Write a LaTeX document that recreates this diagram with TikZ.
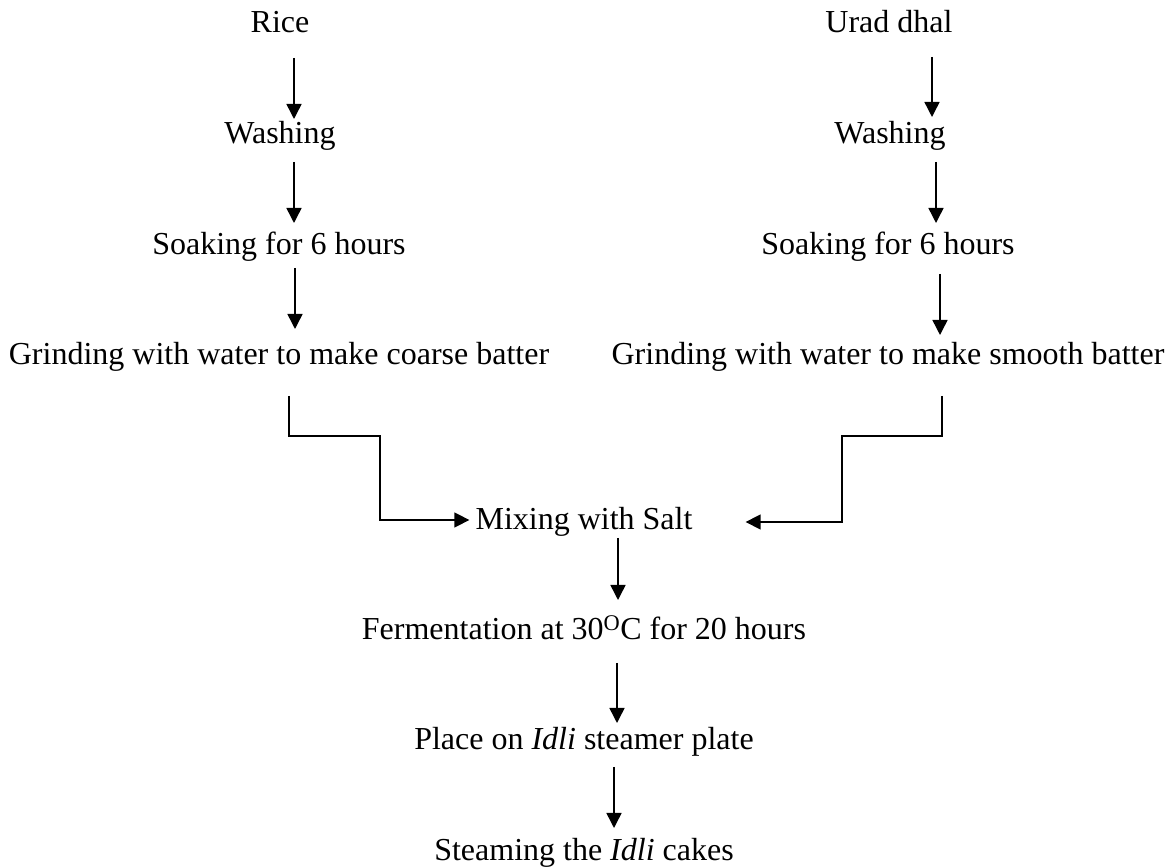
\documentclass[tikz,border=0pt]{standalone}
\usepackage{fontspec}
\setmainfont{Liberation Serif}
\usetikzlibrary{arrows.meta}
\begin{document}
\begin{tikzpicture}[x=1pt,y=1pt,
  lbl/.style={inner sep=0pt,anchor=base,font=\fontsize{32}{38}\selectfont},
  arr/.style={line width=1.5pt,-{Triangle[length=15pt,width=15pt]}},
  conn/.style={line width=1.5pt}]
\useasboundingbox (0,0) rectangle (1172,867);
% left column
\node[lbl] (rice)   at (280,834) {Rice};
\node[lbl] (wash1)  at (280,723) {Washing};
\node[lbl] (soak1)  at (279,612) {Soaking for 6 hours};
\node[lbl] (grind1) at (279,502) {Grinding with water to make coarse batter};
% right column
\node[lbl] (urad)   at (889,834) {Urad dhal};
\node[lbl] (wash2)  at (890,723) {Washing};
\node[lbl] (soak2)  at (888,612) {Soaking for 6 hours};
\node[lbl] (grind2) at (888,502) {Grinding with water to make smooth batter};
% middle
\node[lbl] (mix)   at (584,337) {Mixing with Salt};
\node[lbl] (ferm)  at (584,227) {Fermentation at 30\textsuperscript{O}C for 20 hours};
\node[lbl] (place) at (584,117) {Place on \textit{Idli} steamer plate};
\node[lbl] (steam) at (584,6)   {Steaming the \textit{Idli} cakes};
% left arrows
\draw[arr] ([shift={(14,-25)}]rice.base) -- ([shift={(14,25)}]wash1.base);
\draw[arr] ([shift={(14,-18)}]wash1.base) -- ([shift={(15,32)}]soak1.base);
\draw[arr] ([shift={(16,-13)}]soak1.base) -- ([shift={(16,36)}]grind1.base);
% right arrows
\draw[arr] ([shift={(43,-24)}]urad.base) -- ([shift={(42,27)}]wash2.base);
\draw[arr] ([shift={(46,-18)}]wash2.base) -- ([shift={(48,32)}]soak2.base);
\draw[arr] ([shift={(52,-19)}]soak2.base) -- ([shift={(52,30)}]grind2.base);
% connectors to mixing
\coordinate (lbend) at (380,347);
\coordinate (rbend) at (842,345);
\draw[arr] ([shift={(10,-31)}]grind1.base) -- ++(0,-40) -| (lbend) -- ([shift={(-6,10)}]mix.base west);
\draw[arr] ([shift={(54,-31)}]grind2.base) -- ++(0,-40) -| (rbend) -- ([shift={(53,8)}]mix.base east);
% middle arrows
\draw[arr] ([shift={(34,-8)}]mix.base) -- ([shift={(34,40)}]ferm.base);
\draw[arr] ([shift={(33,-23)}]ferm.base) -- ([shift={(33,27)}]place.base);
\draw[arr] ([shift={(30,-17)}]place.base) -- ([shift={(30,33)}]steam.base);
\end{tikzpicture}
\end{document}
